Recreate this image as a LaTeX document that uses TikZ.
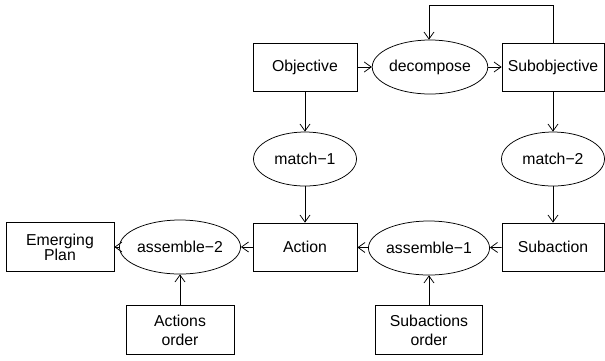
\documentclass[tikz,border=0pt]{standalone}
\usepackage{fontspec}
\setmainfont{Liberation Sans}
\usetikzlibrary{shapes.geometric,arrows.meta}
\begin{document}
\begin{tikzpicture}[x=1pt,y=-1pt,
  font=\fontsize{15.8}{19}\selectfont,
  line width=0.75pt,
  box/.style={draw,rectangle,minimum width=104pt,minimum height=48pt,inner sep=0pt,align=center},
  proc/.style={draw,ellipse,minimum width=103pt,minimum height=54pt,inner sep=0pt},
  arr/.style={-{Straight Barb[length=7pt,width=10pt]}}]
\useasboundingbox (0,0) rectangle (605,360);
\node[box] (obj) at (305,67) {Objective};
\node[proc] (dec) at (430,67) {decompose};
\node[box,minimum width=102pt] (sobj) at (553,67) {Subobjective};
\node[proc] (m1) at (305,159) {match−1};
\node[proc] (m2) at (553,159) {match−2};
\node[box] (act) at (305,247) {Action};
\node[proc] (a1) at (429,248) {assemble−1};
\node[box,minimum width=102pt] (sact) at (553,247) {Subaction};
\node[proc] (a2) at (180,247) {assemble−2};
\node[box,minimum width=108pt,minimum height=49pt,font=\fontsize{15.8}{15}\selectfont] (plan) at (60,247) {Emerging\\Plan};
\node[box,minimum width=108pt,minimum height=49pt] (aord) at (180,330) {Actions\\order};
\node[box,minimum width=107pt,minimum height=49pt] (sord) at (429,330) {Subactions\\order};
\coordinate (c1) at (553,5);
\coordinate (c2) at (429,5);
\draw[arr] (obj) -- (dec);
\draw[arr] (dec) -- (sobj);
\draw[arr] (sobj.north) -- (c1) -- (c2) -- (dec.north -| c2);
\draw[arr] (obj) -- (m1);
\draw[arr] (m1) -- (act);
\draw[arr] (sobj) -- (m2);
\draw[arr] (m2) -- (sact);
\draw[arr] (sact) -- (a1);
\draw[arr] (a1) -- (act);
\draw[arr] (sord) -- (a1);
\draw[arr] (act) -- (a2);
\draw[arr] (a2) -- (plan);
\draw[arr] (aord) -- (a2);
\end{tikzpicture}
\end{document}
